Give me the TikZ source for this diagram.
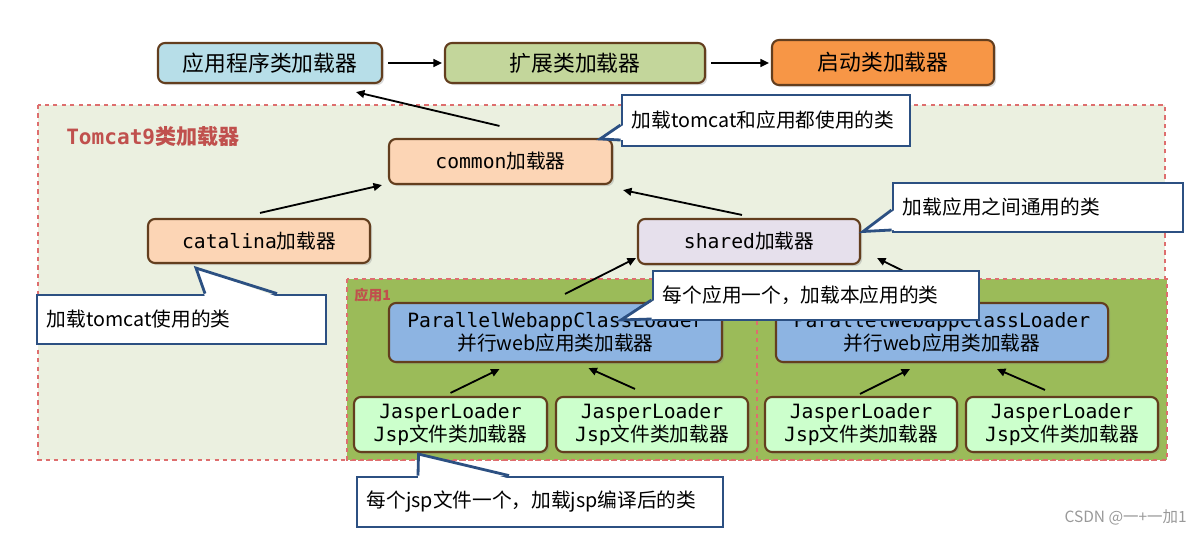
\documentclass[tikz,border=0pt]{standalone}
\usepackage{fontspec}
\setmainfont{Noto Sans CJK SC}
\setmonofont{DejaVu Sans Mono}
\usepackage{xcolor}
\usetikzlibrary{arrows.meta, calc, shadows}
\definecolor{boxbrown}{RGB}{99,62,30}
\definecolor{appblue}{RGB}{183,222,232}
\definecolor{extgreen}{RGB}{195,214,155}
\definecolor{bootorange}{RGB}{247,150,70}
\definecolor{peach}{RGB}{252,213,181}
\definecolor{lavender}{RGB}{230,224,236}
\definecolor{parblue}{RGB}{141,180,226}
\definecolor{mint}{RGB}{204,255,204}
\definecolor{tomcatbg}{RGB}{235,240,224}
\definecolor{appgreen}{RGB}{155,187,89}
\definecolor{dashred}{RGB}{222,110,110}
\definecolor{labelred}{RGB}{192,80,77}
\definecolor{noteblue}{RGB}{44,80,130}

\begin{document}
\begin{tikzpicture}[x=0.025cm, y=-0.025cm, every node/.style={inner sep=0pt},
  loader/.style={draw=boxbrown, line width=1.5pt, rounded corners=5pt, align=center,
    font=\fontsize{14}{16.5}\selectfont,
    drop shadow={shadow xshift=1.5pt, shadow yshift=-1.5pt, opacity=.3}},
  note/.style={draw=noteblue, line width=2pt, fill=white, align=left,
    inner xsep=0.25cm, font=\fontsize{14}{16.5}\selectfont},
  noteline/.style={draw=noteblue, line width=2pt},
  arrow/.style={-{Triangle[length=6pt,width=5.5pt]}, line width=1.3pt},
  region/.style={draw=dashred, dashed, line width=0.8pt}]
\useasboundingbox (0,0) rectangle (1202,534);

\draw[region, fill=tomcatbg] (38,105) rectangle (1165,460);
\draw[region, fill=appgreen] (347,279) rectangle (1167,460);
\draw[region] (757,279) -- (757,460);
\node[anchor=west, text=labelred, font=\fontsize{15}{18}\selectfont\bfseries] (tclabel) at (66,137)
  {{\ttfamily Tomcat9}类加载器};
\node[anchor=west, text=labelred, font=\fontsize{10}{12}\selectfont\bfseries] (applabel) at (354,295) {应用1};

\node[loader, fill=appblue, minimum width=5.6cm, minimum height=1cm,
  font=\fontsize{15.5}{18}\selectfont] (app) at (270,63) {应用程序类加载器};
\node[loader, fill=extgreen, minimum width=6.5cm, minimum height=1cm,
  font=\fontsize{15.5}{18}\selectfont] (ext) at (575,63) {扩展类加载器};
\node[loader, fill=bootorange, minimum width=5.55cm, minimum height=1.125cm,
  font=\fontsize{15.5}{18}\selectfont] (boot) at (883,62.5) {启动类加载器};

\node[loader, fill=peach, minimum width=5.575cm, minimum height=1.125cm] (common) at (500.5,161.5)
  {{\ttfamily common}加载器};
\node[loader, fill=peach, minimum width=5.55cm, minimum height=1.1cm] (catalina) at (259,241)
  {{\ttfamily catalina}加载器};
\node[loader, fill=lavender, minimum width=5.55cm, minimum height=1.125cm] (shared) at (749,241.5)
  {{\ttfamily shared}加载器};

\node[loader, fill=parblue, minimum width=8.325cm, minimum height=1.475cm] (par1) at (555.5,332.5)
  {{\ttfamily ParallelWebappClassLoader}\\并行web应用类加载器};
\node[loader, fill=parblue, minimum width=8.3cm, minimum height=1.475cm] (par2) at (942,332.5)
  {{\ttfamily ParallelWebappClassLoader}\\并行web应用类加载器};

\node[loader, fill=mint, minimum width=4.825cm, minimum height=1.375cm] (jsp1) at (450.5,424.5)
  {{\ttfamily JasperLoader}\\{\ttfamily Jsp}文件类加载器};
\node[loader, fill=mint, minimum width=4.8cm, minimum height=1.375cm] (jsp2) at (652,424.5)
  {{\ttfamily JasperLoader}\\{\ttfamily Jsp}文件类加载器};
\node[loader, fill=mint, minimum width=4.8cm, minimum height=1.375cm] (jsp3) at (861,424.5)
  {{\ttfamily JasperLoader}\\{\ttfamily Jsp}文件类加载器};
\node[loader, fill=mint, minimum width=4.8cm, minimum height=1.375cm] (jsp4) at (1062,424.5)
  {{\ttfamily JasperLoader}\\{\ttfamily Jsp}文件类加载器};

\draw[arrow] ($(app.east)+(5,0)$) -- ($(ext.west)+(-2,0)$);
\draw[arrow] ($(ext.east)+(5,0)$) -- ($(boot.west)+(-2,0.5)$);
\draw[arrow] ($(common.north)+(-1,-12)$) -- ($(app.south)+(86,8)$);
\draw[arrow] ($(catalina.north)+(1,-5)$) -- ($(common.south west)+(-6,0)$);
\draw[arrow] ($(shared.north)+(-7,-3)$) -- ($(common.south east)+(10,5)$);
\draw[arrow] ($(par1.north)+(9.5,-8)$) -- ($(shared.south west)+(-1,-7)$);
\draw[arrow] ($(par2.north)+(8,-8)$) -- ($(shared.south east)+(16,-7)$);
\draw[arrow] ($(jsp1.north)+(0,-3)$) -- ($(par1.south)+(-56,6)$);
\draw[arrow] ($(jsp2.north)+(-17,-7)$) -- ($(par1.south)+(33,5)$);
\draw[arrow] ($(jsp3.north)+(-1,-2)$) -- ($(par2.south)+(-32,6)$);
\draw[arrow] ($(jsp4.north)+(-17,-6)$) -- ($(par2.south)+(55,6)$);

\node[note, text width=6.7cm, minimum height=1.275cm] (c1) at (766,120.5) {加载tomcat和应用都使用的类};
\fill[white] ($(c1.west)+(3,4.5)$) -- ($(common.north east)+(-13,1)$) -- ($(c1.west)+(3,19.5)$) -- cycle;
\draw[noteline] ($(c1.west)+(0,4.5)$) -- ($(common.north east)+(-13,1)$) -- ($(c1.west)+(0,19.5)$);

\node[note, text width=6.75cm, minimum height=1.225cm] (c2) at (1038,207.5) {加载应用之间通用的类};
\fill[white] ($(c2.west)+(3,2.5)$) -- ($(shared.east)+(2,-10)$) -- ($(c2.west)+(3,22.5)$) -- cycle;
\draw[noteline] ($(c2.west)+(0,2.5)$) -- ($(shared.east)+(2,-10)$) -- ($(c2.west)+(0,22.5)$);

\node[note, text width=6.725cm, minimum height=1.225cm] (c3) at (181.5,319.5) {加载tomcat使用的类};
\fill[white] ($(c3.north)+(23.5,3)$) -- ($(catalina.south)+(-63,4)$) -- ($(c3.north)+(95.5,3)$) -- cycle;
\draw[noteline] ($(c3.north)+(23.5,0)$) -- ($(catalina.south)+(-63,4)$) -- ($(c3.north)+(95.5,0)$);

\node[note, text width=7.65cm, minimum height=1.225cm] (c4) at (816,295.5) {每个应用一个，加载本应用的类};
\fill[white] ($(c4.west)+(3,4.5)$) -- ($(par1.north east)+(-102,18)$) -- ($(c4.west)+(3,23.5)$) -- cycle;
\draw[noteline] ($(c4.west)+(0,4.5)$) -- ($(par1.north east)+(-102,18)$) -- ($(c4.west)+(0,23.5)$);

\node[note, text width=8.65cm, minimum height=1.25cm] (c5) at (540,502) {每个jsp文件一个，加载jsp编译后的类};
\fill[white] ($(c5.north)+(-122,3)$) -- ($(jsp1.south)+(-32,1)$) -- ($(c5.north)+(-31,3)$) -- cycle;
\draw[noteline] ($(c5.north)+(-122,0)$) -- ($(jsp1.south)+(-32,1)$) -- ($(c5.north)+(-31,0)$);

\node[anchor=east, text=black!40, font=\fontsize{11}{13}\selectfont] (mark) at (1187,517) {CSDN @一+一加1};
\end{tikzpicture}
\end{document}
